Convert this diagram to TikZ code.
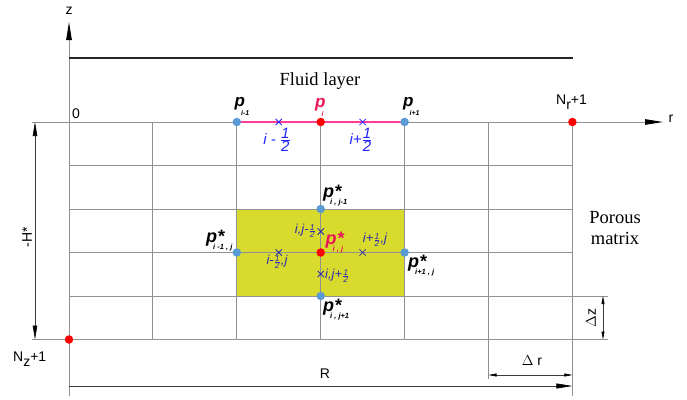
\documentclass[tikz,border=0pt]{standalone}
\usepackage{fontspec}
\setmainfont{Liberation Sans}
\newfontfamily\serifc{Liberation Serif}
\usetikzlibrary{arrows.meta,shapes.misc}
\definecolor{gridc}{RGB}{145,145,145}
\definecolor{yelc}{RGB}{217,218,46}
\definecolor{dotblue}{RGB}{91,155,213}
\definecolor{crim}{RGB}{232,20,85}
\definecolor{txtblue}{RGB}{35,35,255}
\definecolor{navyc}{RGB}{45,45,175}
\definecolor{pinkl}{RGB}{255,60,150}
\definecolor{dimc}{RGB}{60,60,60}
\newcommand{\plab}[1]{{\bfseries\itshape p}\kern-4pt\raisebox{-9pt}{\fontsize{7}{7}\selectfont\bfseries\itshape #1}}
\newcommand{\pstar}[1]{{\bfseries\itshape p}\kern1pt\rlap{\bfseries *}\kern-5pt\raisebox{-7.5pt}{\fontsize{7.5}{7.5}\selectfont\bfseries\itshape #1}}
\newcommand{\bigfr}{${\mbox{1}\over\mbox{2}}$}
\newcommand{\smfr}{{\fontsize{8.5}{8.5}\selectfont${\mbox{1}\over\mbox{2}}$}}
\begin{document}
\begin{tikzpicture}[x=1pt,y=-1pt,
  gridl/.style={draw=gridc,line width=0.9pt},
  diml/.style={draw=dimc,line width=0.6pt},
  bigtip/.style={-{Triangle[length=18pt,width=5.5pt,color=black]}},
  dimtip/.style={{Triangle[length=14pt,width=4.5pt,color=black]}-{Triangle[length=14pt,width=4.5pt,color=black]}},
  smtip/.style={{Triangle[length=8pt,width=3pt,color=black]}-{Triangle[length=8pt,width=3pt,color=black]}},
  bdot/.style={circle,fill=dotblue,minimum size=8.5pt,inner sep=0pt},
  rdot/.style={circle,fill=red,minimum size=8.5pt,inner sep=0pt},
  bx/.style={cross out,draw=txtblue,line width=0.8pt,minimum size=5.5pt,inner sep=0pt},
  nx/.style={cross out,draw=navyc,line width=0.8pt,minimum size=5.5pt,inner sep=0pt},
  lab/.style={inner sep=0pt,font=\fontsize{14}{14}\selectfont},
  plb/.style={inner sep=0pt,anchor=base west,font=\fontsize{17}{17}\selectfont},
  psb/.style={inner sep=0pt,anchor=base west,font=\fontsize{18}{18}\selectfont},
  blab/.style={inner sep=0pt,text=txtblue,font=\fontsize{15}{15}\selectfont\itshape},
  nlab/.style={inner sep=0pt,text=navyc,font=\fontsize{13}{13}\selectfont\itshape},
  serl/.style={inner sep=0pt,font=\serifc\fontsize{18.5}{21}\selectfont}]
\useasboundingbox (0,0) rectangle (687,399);
% grid coordinates
\foreach \i/\xx in {0/69,1/152.9,2/236.8,3/320.7,4/404.6,5/488.5,6/572.4}{
  \foreach \j/\yy in {0/122,1/165.5,2/209,3/252.5,4/296,5/339.5}{
    \coordinate (g\i\j) at (\xx,\yy);}}
\coordinate (zb) at (69,396);
\coordinate (zt) at (69,22);
\coordinate (x5b) at (488.5,379);
\coordinate (x6b) at (572.4,396);
\coordinate (y4r) at (608,296);
\coordinate (y5l) at (32,339.5);
\coordinate (y5r) at (608,339.5);
\coordinate (rl) at (32,122);
\coordinate (rr) at (663,122);
\coordinate (fl) at (69,58);
\coordinate (fr) at (573,58);
% yellow cell
\fill[yelc] (g22) rectangle (g44);
% grid
\foreach \i in {1,2,3,4} \draw[gridl] (g\i0) -- (g\i5);
\foreach \j in {1,2,3} \draw[gridl] (g0\j) -- (g6\j);
\draw[gridl] (g04) -- (y4r);
\draw[gridl] (y5l) -- (y5r);
\draw[gridl] (g50) -- (x5b);
\draw[gridl] (g60) -- (x6b);
\draw[gridl,bigtip] (zb) -- (zt);
\draw[gridl,bigtip] (rl) -- (rr);
% fluid layer
\draw[line width=2.6pt,black!85] (fl) -- (fr);
% magenta segment
\draw[pinkl,line width=1.3pt] (g20) -- (g40);
% dimensions
\coordinate (ht) at (35,122);
\coordinate (hb) at (35,339.5);
\draw[diml,dimtip] (ht) -- (hb);
\coordinate (dzt) at (603,296);
\coordinate (dzb) at (603,339.5);
\draw[diml,smtip] (dzt) -- (dzb);
\coordinate (drl) at (488.5,375);
\coordinate (drr) at (572.4,375);
\draw[diml,smtip] (drl) -- (drr);
\coordinate (Rl) at (69,386);
\coordinate (Rr) at (572.4,386);
\draw[diml,-{Triangle[length=16pt,width=5pt,color=black]}] (Rl) -- (Rr);
% crosses
\node[bx] (cm) at (278.7,122) {};
\node[bx] (cp) at (362.6,122) {};
\node[nx] (cu) at (320.7,231.5) {};
\node[nx] (cd) at (320.7,274) {};
\node[nx] (cl) at (278.7,252.5) {};
\node[nx] (cr) at (362.6,252.5) {};
% dots
\node[bdot] (d1) at (g20) {};
\node[rdot] (d2) at (g30) {};
\node[bdot] (d3) at (g40) {};
\node[rdot] (d4) at (g60) {};
\node[rdot] (d5) at (g05) {};
\node[bdot] (d6) at (g32) {};
\node[bdot] (d7) at (g23) {};
\node[rdot] (d8) at (g33) {};
\node[bdot] (d9) at (g43) {};
\node[bdot] (d10) at (g34) {};
% labels
\node[lab] (lz) at (69,11) {z};
\node[lab] (lr) at (671,119) {r};
\node[lab] (l0) at (76,114) {0};
\node[serl] (lfl) at (320,81) {Fluid layer};
\node[serl,align=center] (lpm) at (615,228) {Porous\\matrix};
\node[lab,anchor=base west] (lnr) at (556,104.5) {N\raisebox{-5pt}{r}+1};
\node[lab,anchor=base west] (lnz) at (13,361.5) {N\raisebox{-5pt}{z}+1};
\node[lab,rotate=90] (lh) at (27,237) {-H*};
\node[lab] (lR) at (325,374) {R};
\node[lab] (ldr) at (532,361) {$\Delta$ r};
\node[lab,rotate=90] (ldz) at (591,318) {$\Delta$z};
\node[plb] (pim) at (234.5,106) {\plab{i-1}};
\node[plb,text=crim] (pi) at (315,107) {\plab{i}};
\node[plb] (pip) at (403,106) {\plab{i+1}};
\node[blab] (lim) at (277,140) {i - \bigfr};
\node[blab] (lip) at (361,140) {i+\bigfr};
\node[psb] (su) at (323,197) {\pstar{i , j-1}};
\node[psb] (sl) at (206,242) {\pstar{i -1 , j}};
\node[psb] (sr) at (408,267) {\pstar{i+1 , j}};
\node[psb] (sd) at (323,311) {\pstar{i , j+1}};
\node[psb,text=crim] (sc) at (325.5,244) {\pstar{i , j}};
\node[nlab,anchor=east] (nu) at (316,231) {i,j-\smfr};
\node[nlab] (nr) at (375,240) {i+\smfr,j};
\node[nlab] (nl) at (277,262) {i-\smfr,j};
\node[nlab,anchor=west] (nd) at (325,276) {i,j+\smfr};
\end{tikzpicture}
\end{document}
